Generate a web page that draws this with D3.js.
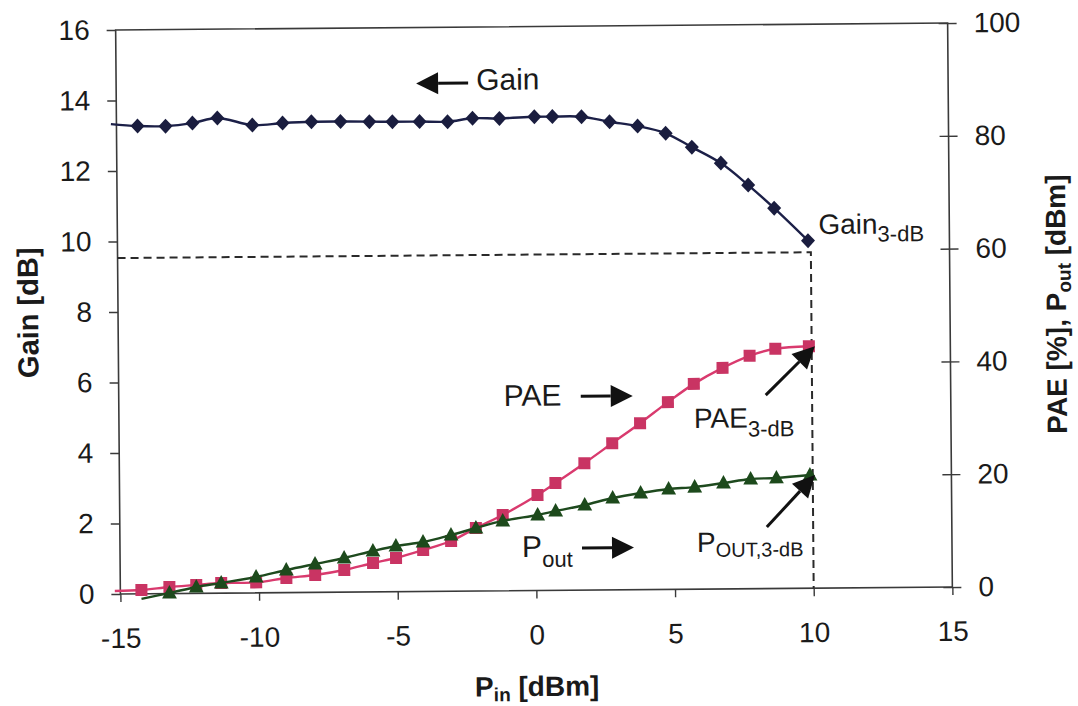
<!DOCTYPE html>
<html>
<head>
<meta charset="utf-8">
<script src="https://cdn.jsdelivr.net/npm/d3@7"></script>
<style>
  body { margin: 0; background: #fff; }
  svg { display: block; }
  text { font-family: "Liberation Sans", Arial, sans-serif; fill: #1a1a1a; }
</style>
</head>
<body>
<svg id="chart" width="1078" height="706"></svg>
<script>
// Input power sweep [dBm]
const pinDbm = [-15.2, -14.24, -13.23, -12.26, -11.36, -10.10, -9.01, -7.97, -6.92, -5.88, -5.05,
  -4.07, -3.06, -2.16, -1.19, 0.07, 0.72, 1.77, 2.78, 3.79, 4.80, 5.74, 6.78, 7.76, 8.69, 9.9];
// Gain [dB] (left axis)
const gainDb = [13.33, 13.27, 13.26, 13.34, 13.48, 13.27, 13.32, 13.35, 13.35, 13.34, 13.33,
  13.33, 13.32, 13.41, 13.40, 13.44, 13.44, 13.43, 13.28, 13.15, 12.94, 12.54, 12.08, 11.45, 10.79, 9.86];
// Power-added efficiency [%] (right axis)
const paePct = [0.53, 0.67, 1.17, 1.49, 1.79, 1.85, 2.59, 3.08, 3.92, 5.12, 5.97,
  7.34, 8.9, 11.17, 13.44, 16.93, 19.02, 22.5, 26.0, 29.5, 33.2, 36.4, 39.2, 41.3, 42.5, 42.9];
// Output power [dBm] (right axis)
const poutDbm = [null, -0.9, 0.1, 1.13, 1.8, 2.81, 4.0, 5.03, 6.05, 7.25, 8.1,
  8.76, 9.96, 11.17, 12.38, 13.39, 14.06, 15.09, 16.28, 17.13, 17.8, 18.1, 18.78, 19.45, 19.6, 20.07];

const xTicks = [-15, -10, -5, 0, 5, 10, 15];
const gainTicks = [0, 2, 4, 6, 8, 10, 12, 14, 16];
const rightTicks = [0, 20, 40, 60, 80, 100];

// 3-dB compression reference point
const gain3dBLevel = 9.53;
const pin3dB = 10;

const plot = { left: 118, right: 950, top: 26.5, bottom: 590.5 };
const cx = (plot.left + plot.right) / 2, cy = (plot.top + plot.bottom) / 2;

const svg = d3.select('#chart');
const g = svg.append('g').attr('transform', `rotate(-0.48 ${cx} ${cy})`);

const x = d3.scaleLinear().domain([-15, 15]).range([plot.left, plot.right]);
const yG = d3.scaleLinear().domain([0, 16]).range([plot.bottom, plot.top]);
const yR = d3.scaleLinear().domain([0, 100]).range([plot.bottom, plot.top]);

const axisColor = '#3a3a3a';
const tickFont = 28;
const plainNum = v => String(v);   // hyphen-minus, as in the spreadsheet output

// Plot frame
g.append('rect')
  .attr('x', plot.left).attr('y', plot.top)
  .attr('width', plot.right - plot.left).attr('height', plot.bottom - plot.top)
  .attr('fill', 'none').attr('stroke', axisColor).attr('stroke-width', 1.6);

function styleAxis(sel) {
  sel.select('.domain').remove();
  sel.selectAll('.tick line').attr('stroke', axisColor).attr('stroke-width', 1.4);
  sel.selectAll('.tick text')
    .attr('font-size', tickFont)
    .attr('font-family', '"Liberation Sans", Arial, sans-serif')
    .attr('fill', '#1a1a1a');
}

// Left axis: gain
g.append('g').attr('transform', `translate(${plot.left},0)`)
  .call(d3.axisLeft(yG).tickValues(gainTicks).tickFormat(plainNum).tickSize(9).tickPadding(17))
  .call(styleAxis);

// Right axis: PAE / Pout, ticks crossing the axis line
const rAxis = g.append('g').attr('transform', `translate(${plot.right},0)`)
  .call(d3.axisRight(yR).tickValues(rightTicks).tickFormat(plainNum).tickSize(9).tickPadding(17))
  .call(styleAxis);
rAxis.selectAll('.tick line').attr('x1', -9).attr('x2', 9);

// Bottom axis: input power
g.append('g').attr('transform', `translate(0,${plot.bottom})`)
  .call(d3.axisBottom(x).tickValues(xTicks).tickFormat(plainNum).tickSize(8).tickPadding(26))
  .call(styleAxis);

// Text with a lowered subscript run
function subText(parent, parts, attrs) {
  const t = parent.append('text');
  Object.entries(attrs).forEach(([k, v]) => t.attr(k, v));
  parts.forEach(p => {
    const ts = t.append('tspan').text(p.text);
    if (p.size) ts.attr('font-size', p.size);
    if (p.dy) ts.attr('dy', p.dy);
  });
  return t;
}

// Axis titles
g.append('text')
  .attr('transform', `translate(38,${cy}) rotate(-90)`)
  .attr('text-anchor', 'middle')
  .attr('font-size', 29).attr('font-weight', 'bold')
  .text('Gain [dB]');

subText(g, [
  { text: 'PAE [%], P' },
  { text: 'out', size: 19, dy: 5 },
  { text: ' [dBm]', dy: -5 }
], { transform: `translate(1066,${cy}) rotate(-90)`, 'text-anchor': 'middle', 'font-size': 28, 'font-weight': 'bold' });

subText(g, [
  { text: 'P' },
  { text: 'in', size: 19, dy: 5 },
  { text: ' [dBm]', dy: -5 }
], { x: cx, y: 696, 'text-anchor': 'middle', 'font-size': 28, 'font-weight': 'bold' });

// Dashed 3-dB compression guides
g.append('path')
  .attr('d', `M${x(-15)},${yG(gain3dBLevel)}H${x(pin3dB)}V${plot.bottom}`)
  .attr('fill', 'none').attr('stroke', '#2a2a2a').attr('stroke-width', 2)
  .attr('stroke-dasharray', '8,5');

// Series
const pts = (vals) => pinDbm.map((p, i) => ({ p, v: vals[i] })).filter(d => d.v !== null);
const inside = d => d.p >= -15 && d.v >= 0;

const series = [
  { vals: gainDb, y: yG, line: '#1c2048', fill: '#1a1d3f', shape: 'diamond' },
  { vals: paePct, y: yR, line: '#d93a6e', fill: '#c93463', shape: 'square' },
  { vals: poutDbm, y: yR, line: '#1e4a1e', fill: '#1d4a1c', shape: 'triangle' }
];

const markerPath = {
  diamond: 'M0,-7.5L7,0L0,7.5L-7,0Z',
  square: 'M-6,-6H6V6H-6Z',
  triangle: 'M0,-8L7.4,5.5L-7.4,5.5Z'
};

series.forEach(s => {
  const data = pts(s.vals);
  const line = d3.line()
    .x(d => x(d.p)).y(d => s.y(d.v))
    .curve(d3.curveCatmullRom.alpha(0.5));
  g.append('path').datum(data)
    .attr('d', line)
    .attr('fill', 'none').attr('stroke', s.line).attr('stroke-width', 2.4);
  g.append('g').selectAll('path')
    .data(data.filter(inside))
    .join('path')
    .attr('transform', d => `translate(${x(d.p)},${s.y(d.v)})`)
    .attr('d', markerPath[s.shape])
    .attr('fill', s.fill);
});

// Annotation arrows
function arrow(x1, y1, x2, y2) {
  const ang = Math.atan2(y2 - y1, x2 - x1);
  const L = 22, Wd = 11;
  const bx = x2 - L * Math.cos(ang), by = y2 - L * Math.sin(ang);
  g.append('line').attr('x1', x1).attr('y1', y1).attr('x2', bx).attr('y2', by)
    .attr('stroke', '#111').attr('stroke-width', 3);
  const nx = -Math.sin(ang) * Wd, ny = Math.cos(ang) * Wd;
  g.append('path')
    .attr('d', `M${x2},${y2}L${bx + nx},${by + ny}L${bx - nx},${by - ny}Z`)
    .attr('fill', '#111');
}

const annFont = 30;
const last = pinDbm.length - 1;

// Gain label with left-pointing arrow
g.append('text').attr('x', 478).attr('y', 89.5).attr('font-size', annFont).text('Gain');
arrow(470, 82.5, 418, 82.5);

// Gain at 3-dB compression
subText(g, [{ text: 'Gain' }, { text: '3-dB', size: 22, dy: 8 }],
  { x: 819, y: 236.4, 'font-size': annFont - 2 });

// PAE label with right-pointing arrow
g.append('text').attr('x', 503).attr('y', 405.7).attr('font-size', annFont).text('PAE');
arrow(580, 396.7, 632, 396.7);

// PAE at 3-dB compression
subText(g, [{ text: 'PAE' }, { text: '3-dB', size: 22, dy: 9 }],
  { x: 693, y: 429.3, 'font-size': annFont - 2 });
arrow(765, 397, x(pinDbm[last]) + 6, yR(paePct[last]));

// Pout label with right-pointing arrow
subText(g, [{ text: 'P' }, { text: 'out', size: 22, dy: 10 }],
  { x: 520, y: 556.9, 'font-size': annFont });
arrow(580, 548.4, 632, 548.4);

// Pout at 3-dB compression
subText(g, [{ text: 'P' }, { text: 'OUT,3-dB', size: 20, dy: 5 }],
  { x: 695, y: 553.3, 'font-size': annFont - 2 });
arrow(765, 529, x(pinDbm[last]) + 5, yR(poutDbm[last]));
</script>
</body>
</html>
